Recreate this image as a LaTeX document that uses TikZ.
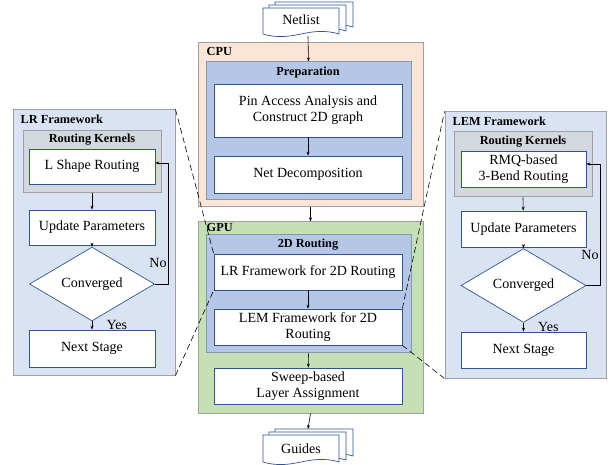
\documentclass[tikz,border=0pt]{standalone}
\usepackage{fontspec}
\setmainfont{Liberation Serif}
\newfontfamily\tnr{Liberation Serif}
\usetikzlibrary{shapes.geometric,arrows.meta,calc}
\definecolor{cpuf}{HTML}{FBE5D6}
\definecolor{gpuf}{HTML}{C5E0B4}
\definecolor{secf}{HTML}{B4C7E7}
\definecolor{panf}{HTML}{DAE3F3}
\definecolor{rkf}{HTML}{D3D7DE}
\definecolor{outl}{HTML}{A0A0A0}
\definecolor{blueb}{HTML}{2F5597}
\definecolor{secb}{HTML}{8497B0}
\tikzset{
  txt/.style={font=\tnr\fontsize{14}{16}\selectfont, align=center},
  wbox/.style={draw=blueb, fill=white, line width=0.7pt, inner sep=0pt, txt},
  outer/.style={draw=outl, line width=1pt, inner sep=0pt},
  secbox/.style={draw=secb, fill=secf, line width=1pt, inner sep=0pt},
  ttl/.style={font=\tnr\fontsize{12.3}{14}\selectfont\bfseries, inner sep=0pt},
  arr/.style={-{Stealth[length=4pt,width=3pt]}, line width=0.6pt},
  dsh/.style={dashed, dash pattern=on 6pt off 3.5pt, line width=0.6pt},
  doc/.style={draw=blueb, fill=white, line width=0.7pt}
}
\newcommand{\docpage}[4]{%
  \path[doc] (#1,#2) -- ({#1+#3},#2) -- ({#1+#3},{#2+#4})
   .. controls ({#1+0.6*#3},{#2+#4-9}) and ({#1+0.4*#3},{#2+#4+9}) .. (#1,{#2+#4}) -- cycle;}
\begin{document}
\begin{tikzpicture}[x=1pt,y=-1pt]
\useasboundingbox (0,0) rectangle (611,465);

% Netlist document stack
\docpage{275}{2}{78}{25}
\docpage{269}{5}{77}{26}
\docpage{263}{8}{76}{26}
\node[txt, inner sep=0pt] (netlist) at (301,20) {Netlist};
\coordinate (netbot) at (308,36);

% Guides document stack
\docpage{275}{429}{78}{27}
\docpage{269}{432}{77}{28}
\docpage{263}{435}{76}{27}
\node[txt, inner sep=0pt] (guides) at (301,449) {Guides};
\coordinate (guidestop) at (308,429);

% CPU
\node[outer, fill=cpuf, minimum width=225, minimum height=164] (cpu) at (310.5,125) {};
\node[ttl, anchor=north west] (cpul) at ($(cpu.north west)+(9,5)$) {CPU};
\node[secbox, minimum width=205, minimum height=138] (prep) at (308.5,131) {};
\node[ttl] (prepl) at (308,73) {Preparation};
\node[wbox, minimum width=188, minimum height=53] (pin) at (308,110.5) {Pin Access Analysis and\\Construct 2D graph};
\node[wbox, minimum width=188, minimum height=37] (netdec) at (308,174.5) {Net Decomposition};

% GPU
\node[outer, fill=gpuf, minimum width=225, minimum height=191] (gpu) at (310.5,317.5) {};
\node[secbox, minimum width=205, minimum height=118] (r2d) at (308.5,294) {};
\node[ttl, anchor=north west] (gpul) at ($(gpu.north west)+(9,2)$) {GPU};
\node[ttl] (r2dl) at (308,245) {2D Routing};
\node[wbox, minimum width=188, minimum height=36] (lr2d) at (308,272) {LR Framework for 2D Routing};
\node[wbox, minimum width=188, minimum height=36] (lem2d) at (308,327) {LEM Framework for 2D\\Routing};
\node[wbox, minimum width=188, minimum height=36] (sweep) at (308,386) {Sweep-based\\Layer Assignment};

% LR panel
\node[outer, fill=panf, minimum width=162, minimum height=265] (lrp) at (94,242.5) {};
\node[ttl, anchor=north west] (lrpl) at ($(lrp.north west)+(8,5)$) {LR Framework};
\node[outer, fill=rkf, minimum width=138, minimum height=62] (rkl) at (92,162) {};
\node[ttl] (rkll) at (92,140) {Routing Kernels};
\node[wbox, minimum width=126, minimum height=35] (lsh) at (92,166.5) {L Shape Routing};
\node[wbox, minimum width=126, minimum height=35] (updl) at (92,227.5) {Update Parameters};
\node[wbox, diamond, minimum width=125, minimum height=56] (convl) at (92,284) {Converged};
\node[wbox, minimum width=126, minimum height=37] (nextl) at (92,348.5) {Next Stage};

% LEM panel
\node[outer, fill=panf, minimum width=161, minimum height=266] (lemp) at (525.5,245) {};
\node[ttl, anchor=north west] (lempl) at ($(lemp.north west)+(8,5)$) {LEM Framework};
\node[outer, fill=rkf, minimum width=138, minimum height=65] (rkr) at (523,164.5) {};
\node[ttl] (rkrl) at (523,142) {Routing Kernels};
\node[wbox, minimum width=125, minimum height=36] (rmq) at (523.5,169) {RMQ-based\\3-Bend Routing};
\node[wbox, minimum width=125, minimum height=36] (updr) at (523.5,229) {Update Parameters};
\node[wbox, diamond, minimum width=125, minimum height=57] (convr) at (523.5,285.5) {Converged};
\node[wbox, minimum width=125, minimum height=36] (nextr) at (523.5,350) {Next Stage};

% main arrows
\draw[arr] (netbot) -- (prep.north);
\draw[arr] (pin) -- (netdec);
\draw[arr] (cpu) -- (gpu);
\draw[arr] (lr2d) -- (lem2d);
\draw[arr] (r2d.south) -- (sweep);
\draw[arr] (gpu.south) -- (guidestop);

% LR panel arrows
\draw[arr] (rkl.south) -- (updl);
\draw[arr] (updl) -- (convl);
\draw[arr] (convl) -- (nextl) node[txt, pos=0.45, right=11pt] {Yes};
\coordinate (fbl) at (168,163);
\draw[arr] (convl.east) -| (fbl) -- (lsh.east |- fbl);
\node[txt, inner sep=0pt] (nol) at (158,263) {No};

% LEM panel arrows
\draw[arr] (rkr.south) -- (updr);
\draw[arr] (updr) -- (convr);
\draw[arr] (convr) -- (nextr) node[txt, pos=0.45, right=11pt] {Yes};
\coordinate (fbr) at (600,164);
\draw[arr] (convr.east) -| (fbr) -- (rmq.east |- fbr);
\node[txt, inner sep=0pt] (nor) at (590,255) {No};

% dashed zoom lines
\draw[dsh] (lrp.north east) -- (lr2d.north west);
\draw[dsh] (lrp.south east) -- (lr2d.south west);
\draw[dsh] (lem2d.north east) -- (lemp.north west);
\draw[dsh] (lem2d.south east) -- (lemp.south west);
\end{tikzpicture}
\end{document}
